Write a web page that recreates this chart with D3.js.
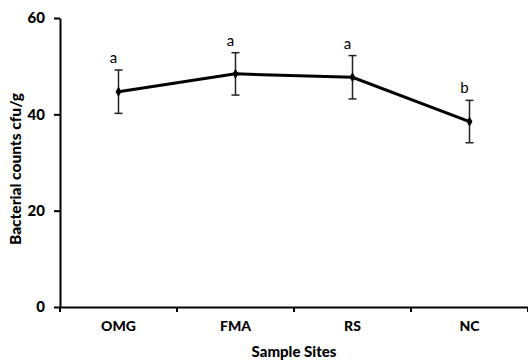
<!DOCTYPE html>
<html lang="en">
<head>
<meta charset="UTF-8">
<title>Bacterial counts by sample site</title>
<script src="https://cdn.jsdelivr.net/npm/d3@7/dist/d3.min.js"></script>
<style>
  body { margin: 0; background: #fff; }
  text { font-family: Lato, "Open Sans", sans-serif; }
</style>
</head>
<body>
<svg id="chart" width="528" height="360"></svg>
<script>
// data
var sites = ["OMG", "FMA", "RS", "NC"];
var counts = [44.7, 48.4, 47.7, 38.5];
var errors = [4.5, 4.4, 4.5, 4.4];
var letters = ["a", "a", "a", "b"];
var yTicks = [0, 20, 40, 60];

var svg = d3.select("#chart");
var mLeft = 60, mRight = 528, mTop = 18, mBottom = 307;

var x = d3.scaleBand().domain(sites).range([mLeft, mRight]);
var y = d3.scaleLinear().domain([0, 60]).range([mBottom, mTop]);

// y axis
var yAxis = svg.append("g")
    .attr("transform", "translate(" + mLeft + ",0)")
    .call(d3.axisLeft(y).tickValues(yTicks).tickSize(6).tickSizeOuter(0));
yAxis.select(".domain").attr("stroke", "#000").attr("stroke-width", 2);
yAxis.selectAll(".tick line").attr("stroke", "#000").attr("stroke-width", 2);
yAxis.selectAll(".tick text")
    .attr("x", -15)
    .style("font-size", "15px").style("font-weight", "900").attr("fill", "#000");

// x axis
var xAxis = svg.append("g")
    .attr("transform", "translate(0," + mBottom + ")")
    .call(d3.axisBottom(x).tickSize(0).tickSizeOuter(0));
xAxis.select(".domain").attr("stroke", "#000").attr("stroke-width", 2);
xAxis.selectAll(".tick text")
    .attr("y", 14)
    .style("font-size", "14px").style("font-weight", "900").attr("fill", "#000");
// tick marks between categories
var bounds = sites.map(function(s) { return x(s); }).concat([mRight]);
svg.append("g").selectAll("line")
    .data(bounds)
    .enter().append("line")
    .attr("x1", function(d) { return d; })
    .attr("x2", function(d) { return d; })
    .attr("y1", mBottom)
    .attr("y2", mBottom + 5)
    .attr("stroke", "#000")
    .attr("stroke-width", 2);

// axis titles
svg.append("text")
    .attr("x", (mLeft + mRight) / 2).attr("y", 357)
    .attr("text-anchor", "middle")
    .style("font-size", "15px").style("font-weight", "900")
    .text("Sample Sites");
svg.append("text")
    .attr("transform", "translate(21,169) rotate(-90)")
    .attr("text-anchor", "middle")
    .style("font-size", "15.5px").style("font-weight", "900")
    .text("Bacterial counts cfu/g");

var cx = function(i) { return x(sites[i]) + x.bandwidth() / 2; };

// error bars
var eb = svg.append("g").attr("stroke", "#222").attr("stroke-width", 1.5);
counts.forEach(function(v, i) {
  var hi = y(v + errors[i]), lo = y(v - errors[i]);
  eb.append("line").attr("x1", cx(i)).attr("x2", cx(i)).attr("y1", hi).attr("y2", lo);
  eb.append("line").attr("x1", cx(i) - 4).attr("x2", cx(i) + 4).attr("y1", hi).attr("y2", hi);
  eb.append("line").attr("x1", cx(i) - 4).attr("x2", cx(i) + 4).attr("y1", lo).attr("y2", lo);
});

// line
var line = d3.line()
    .x(function(d, i) { return cx(i); })
    .y(function(d) { return y(d); });
svg.append("path")
    .datum(counts)
    .attr("d", line)
    .attr("fill", "none")
    .attr("stroke", "#000")
    .attr("stroke-width", 3);

// markers
svg.append("g").selectAll("path")
    .data(counts)
    .enter().append("path")
    .attr("d", d3.symbol().type(d3.symbolDiamond).size(30))
    .attr("transform", function(d, i) { return "translate(" + cx(i) + "," + y(d) + ")"; })
    .attr("fill", "#000");

// significance letters
svg.append("g").selectAll("text")
    .data(counts)
    .enter().append("text")
    .attr("x", function(d, i) { return cx(i) - 5; })
    .attr("y", function(d, i) { return y(d + errors[i]) - 7; })
    .attr("text-anchor", "middle")
    .style("font-size", "15px")
    .text(function(d, i) { return letters[i]; });
</script>
</body>
</html>
